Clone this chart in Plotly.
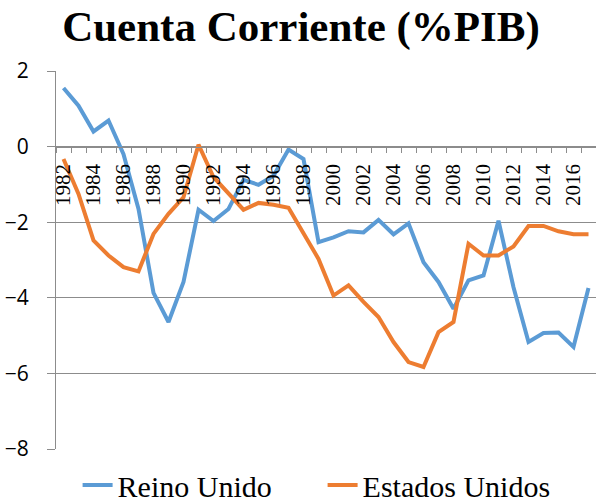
import plotly.graph_objects as go

years = list(range(1982, 2018))
reino_unido = [1.55, 1.08, 0.40, 0.69, -0.20, -1.65, -3.87, -4.64, -3.58, -1.67,
               -1.97, -1.65, -0.88, -1.01, -0.77, -0.08, -0.33, -2.53, -2.40, -2.24,
               -2.27, -1.94, -2.32, -2.03, -3.06, -3.58, -4.29, -3.54, -3.41, -1.96,
               -3.72, -5.17, -4.93, -4.92, -5.30, -3.74]
estados_unidos = [-0.33, -1.25, -2.48, -2.88, -3.19, -3.30, -2.31, -1.78, -1.34, 0.05,
                  -0.81, -1.25, -1.67, -1.49, -1.54, -1.62, -2.31, -2.97, -3.94, -3.67,
                  -4.11, -4.51, -5.17, -5.70, -5.83, -4.91, -4.64, -2.57, -2.88, -2.88,
                  -2.64, -2.10, -2.10, -2.24, -2.32, -2.32]
label_years = list(range(1982, 2017, 2))
label_text = [str(y) for y in label_years]
y_ticks = [-8, -6, -4, -2, 0, 2]

GRID = "#8c8c8c"
SERIF = "Liberation Serif"

fig = go.Figure()
fig.add_trace(go.Scatter(x=years, y=reino_unido, mode="lines", name="Reino Unido",
                         line=dict(color="#5B9BD5", width=4)))
fig.add_trace(go.Scatter(x=years, y=estados_unidos, mode="lines", name="Estados Unidos",
                         line=dict(color="#ED7D31", width=4)))

fig.update_layout(
    width=596, height=504,
    margin=dict(l=56, r=0, t=71, b=55, autoexpand=False),
    font=dict(family=SERIF),
    paper_bgcolor="white", plot_bgcolor="white",
    title=dict(text="<b>Cuenta Corriente (%PIB)</b>", x=0.505, xanchor="center",
               y=0.948, yanchor="middle",
               font=dict(family=SERIF, size=43, color="black")),
    showlegend=True,
    legend=dict(orientation="h", x=0.04, xanchor="left", y=-0.095, yanchor="middle",
                font=dict(family=SERIF, size=30, color="black"),
                entrywidth=200, itemwidth=30, bgcolor="rgba(0,0,0,0)",
                borderwidth=0, tracegroupgap=0),
    xaxis=dict(
        range=[1981.5, 2017.5], anchor="free", position=0.8, automargin=False,
        tickmode="array", tickvals=label_years, ticktext=label_text,
        tickangle=-90, ticks="", ticklabelstandoff=8,
        tickfont=dict(family=SERIF, size=21, color="black"),
        showgrid=False, zeroline=False,
        showline=True, linecolor=GRID, linewidth=1,
        minor=dict(ticks="outside", ticklen=5, tickcolor=GRID, tickwidth=1,
                   tick0=1981.5, dtick=1, showgrid=False),
    ),
    yaxis=dict(
        range=[-8, 2], tickmode="array", tickvals=y_ticks, automargin=False,
        ticks="outside", ticklen=8, tickcolor=GRID, tickwidth=1,
        tickfont=dict(family="Open Sans", size=21, color="black"),
        ticklabelstandoff=14,
        showgrid=True, gridcolor=GRID, gridwidth=1,
        zeroline=False, showline=True, linecolor=GRID, linewidth=1,
    ),
)

fig.write_html("out.html", config={"displayModeBar": False},
               post_script="document.body.style.margin='0px';")
